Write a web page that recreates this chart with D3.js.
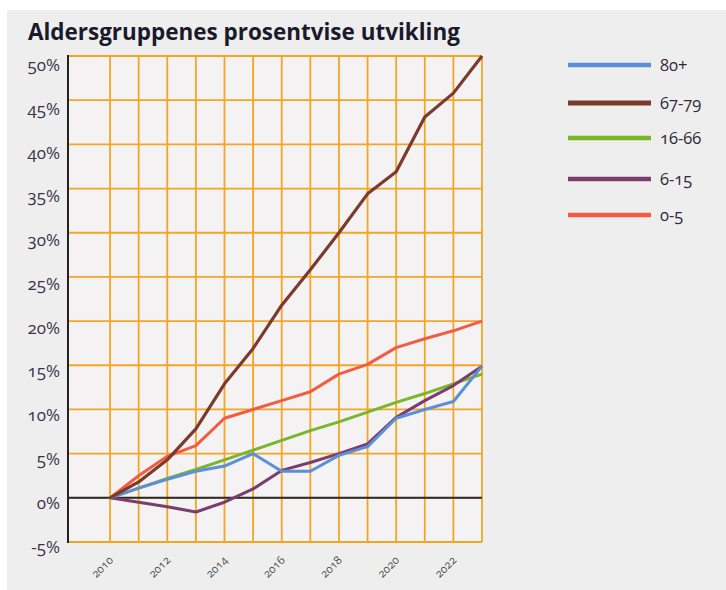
<!DOCTYPE html>
<html><head><meta charset="utf-8">
<script src="https://cdn.jsdelivr.net/npm/d3@7"></script>
<style>
html,body{margin:0;padding:0;background:#fff;}
svg{display:block;}
text{font-family:"Open Sans","DejaVu Sans",sans-serif;font-variant-numeric:oldstyle-nums;}
</style></head>
<body>
<script>
const years = [2010,2011,2012,2013,2014,2015,2016,2017,2018,2019,2020,2021,2022,2023];
const seriesNames = ["80+","67-79","16-66","6-15","0-5"];
const s80 = [0,1.1,2.1,3.0,3.6,5.0,3.0,3.0,4.8,5.8,9.0,10.0,10.9,14.9];
const s67 = [0,1.8,4.3,7.8,12.9,16.9,21.8,25.8,30.0,34.4,36.9,43.1,45.8,50.0];
const s16 = [0,1.1,2.2,3.2,4.3,5.4,6.5,7.6,8.6,9.7,10.8,11.8,12.9,14.0];
const s6 = [0,-0.5,-1.0,-1.6,-0.5,1.0,3.1,4.0,5.0,6.1,9.1,11.0,12.7,14.9];
const s0 = [0,2.5,4.7,5.9,9.0,10.0,11.0,12.0,14.0,15.1,17.0,18.0,18.9,20.0];
const seriesValues = [s80,s67,s16,s6,s0];
const colors = ["#5b8fd8","#7b3a2c","#79b62a","#7a3d6c","#f25c42"];
const yTicks = [-5,0,5,10,15,20,25,30,35,40,45,50];
const xLabelYears = [2010,2012,2014,2016,2018,2020,2022];
const title = "Aldersgruppenes prosentvise utvikling";

const W=726,H=590;
const svg=d3.select("body").append("svg").attr("width",W).attr("height",H);
svg.append("rect").attr("x",7).attr("y",10).attr("width",W-7).attr("height",H-10).attr("fill","#eeeeee");

const x=d3.scaleLinear().domain([2008.53,2023]).range([68,482]);
const y=d3.scaleLinear().domain([-5,50]).range([542,56]);

// plot background
svg.append("rect").attr("x",x(2008.53)).attr("y",y(50)).attr("width",x(2023)-x(2008.53)).attr("height",y(-5)-y(50)).attr("fill","#f5f2f4");

// grid
const g=svg.append("g");
g.selectAll("line.h").data(yTicks).join("line").attr("class","h")
 .attr("x1",x(2008.53)).attr("x2",x(2023)).attr("y1",d=>y(d)).attr("y2",d=>y(d))
 .attr("stroke","#f2a624").attr("stroke-width",1.8);
g.selectAll("line.v").data(years).join("line").attr("class","v")
 .attr("x1",d=>x(d)).attr("x2",d=>x(d)).attr("y1",y(50)).attr("y2",y(-5))
 .attr("stroke","#f2a624").attr("stroke-width",1.8);

// y axis line and zero line
svg.append("line").attr("x1",x(2008.53)).attr("x2",x(2008.53)).attr("y1",y(50)-1).attr("y2",y(-5)+1).attr("stroke","#222").attr("stroke-width",2);
svg.append("line").attr("x1",x(2008.53)).attr("x2",x(2023)).attr("y1",y(0)).attr("y2",y(0)).attr("stroke","#2a2a2a").attr("stroke-width",2);

// y labels
svg.selectAll("text.yl").data(yTicks).join("text").attr("class","yl")
 .attr("x",60).attr("y",d=>y(d)+5+ (d/50)*4).attr("dy","0.35em").attr("text-anchor","end")
 .attr("font-size",17).attr("fill","#3a3448").text(d=>d+"%");

// x labels
svg.selectAll("text.xl").data(xLabelYears).join("text").attr("class","xl")
 .attr("transform",d=>`translate(${x(d)+1},${558}) rotate(-45)`)
 .attr("text-anchor","end").attr("dy","0.35em")
 .attr("font-size",11.5).attr("fill","#505050").text(d=>d);

// lines
const line=d3.line().x((d,i)=>x(years[i])).y(d=>y(d));
const order=[2,3,0,4,1];
order.forEach(k=>{
  svg.append("path").datum(seriesValues[k]).attr("d",line).attr("fill","none")
   .attr("stroke",colors[k]).attr("stroke-width",k===1?3.2:3).attr("stroke-linejoin","round");
});

// title
const t=svg.append("text").attr("x",28).attr("y",40).attr("font-size",21).attr("font-weight","bold").attr("fill","#1a1a2a").style("font-variant-numeric","normal").text(title);
const tw=t.node().getComputedTextLength();
t.attr("font-size",21*432/tw);

// legend
const legY=[65,103,138,179,215];
const leg=svg.append("g");
seriesNames.forEach((n,i)=>{
  leg.append("line").attr("x1",568).attr("x2",651).attr("y1",legY[i]).attr("y2",legY[i])
   .attr("stroke",colors[i]).attr("stroke-width",i===1?5:4.5);
  leg.append("text").attr("x",660).attr("y",legY[i]).attr("dy","0.35em").attr("font-size",16.5)
   .attr("fill","#2e2a3a").text(n);
});
</script>
</body></html>
